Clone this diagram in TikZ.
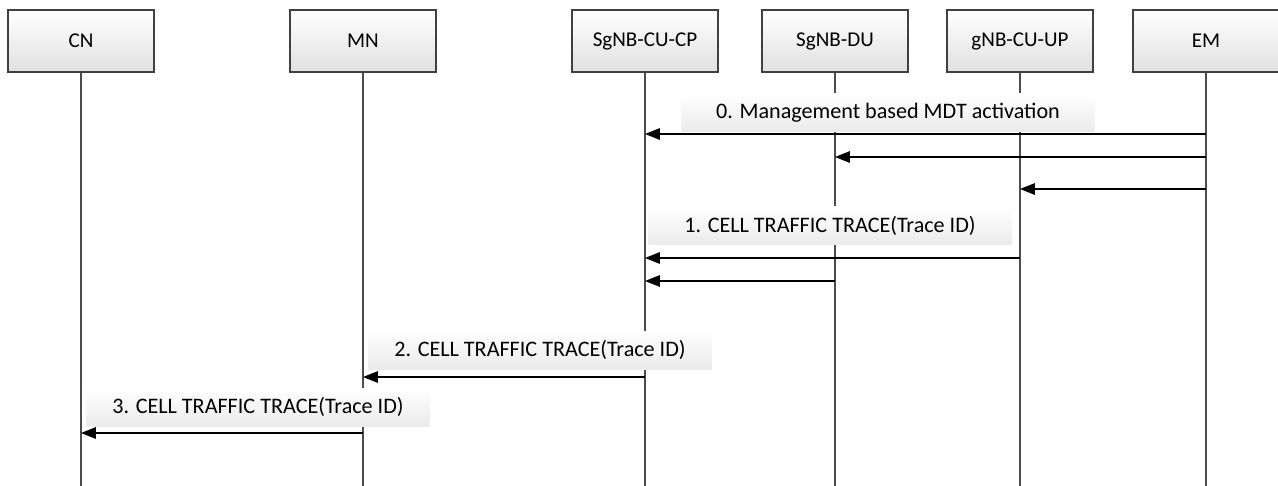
\documentclass[tikz,border=0pt]{standalone}
\usepackage{fontspec}
\setmainfont{Carlito}
\usetikzlibrary{arrows.meta}

\begin{document}
\begin{tikzpicture}[
    x=0.02cm, y=-0.02cm,
    box/.style={draw=black!75, line width=0.6pt, minimum width=146*0.02cm, minimum height=62*0.02cm,
        top color=white, bottom color=black!12, font=\fontsize{12}{14}\selectfont},
    msg/.style={minimum width=#1*0.02cm, minimum height=38*0.02cm, inner sep=0pt,
        top color=white, bottom color=black!8, font=\fontsize{12.6}{14}\selectfont},
    life/.style={draw=black!70, line width=0.6pt},
    arrow/.style={-{Triangle[length=8.5pt, width=6.5pt]}, line width=0.9pt}
]
    \useasboundingbox (0,0) rectangle (1278,486);

    % Entities
    \node[box] (cn) at (81, 41) {CN};
    \node[box] (mn) at (363, 41) {MN};
    \node[box] (cucp) at (645, 41) {SgNB-CU-CP};
    \node[box] (du) at (835, 41) {SgNB-DU};
    \node[box] (cuup) at (1020, 41) {gNB-CU-UP};
    \node[box] (em) at (1206, 41) {EM};

    % Lifelines
    \coordinate (bot) at (0, 486);
    \foreach \n in {cn, mn, cucp, du, cuup, em}
        \draw[life] (\n) -- (\n |- bot);

    % Message rows
    \coordinate (r0) at (0, 134);
    \coordinate (r0b) at (0, 157);
    \coordinate (r0c) at (0, 189);
    \coordinate (r1) at (0, 258);
    \coordinate (r1b) at (0, 281);
    \coordinate (r2) at (0, 377);
    \coordinate (r3) at (0, 433);

    % Labels
    \node[msg=413] (m0) at (888, 113) {0. Management based MDT activation};
    \node[msg=363] (m1) at (830, 226) {1. CELL TRAFFIC TRACE(Trace ID)};
    \node[msg=344] (m2) at (540, 350) {2. CELL TRAFFIC TRACE(Trace ID)};
    \node[msg=343] (m3) at (258, 407) {3. CELL TRAFFIC TRACE(Trace ID)};

    % Arrows
    \draw[arrow] (em |- r0) -- (cucp |- r0);
    \draw[arrow] (em |- r0b) -- (du |- r0b);
    \draw[arrow] (em |- r0c) -- (cuup |- r0c);
    \draw[arrow] (cuup |- r1) -- (cucp |- r1);
    \draw[arrow] (du |- r1b) -- (cucp |- r1b);
    \draw[arrow] (cucp |- r2) -- (mn |- r2);
    \draw[arrow] (mn |- r3) -- (cn |- r3);
\end{tikzpicture}
\end{document}
